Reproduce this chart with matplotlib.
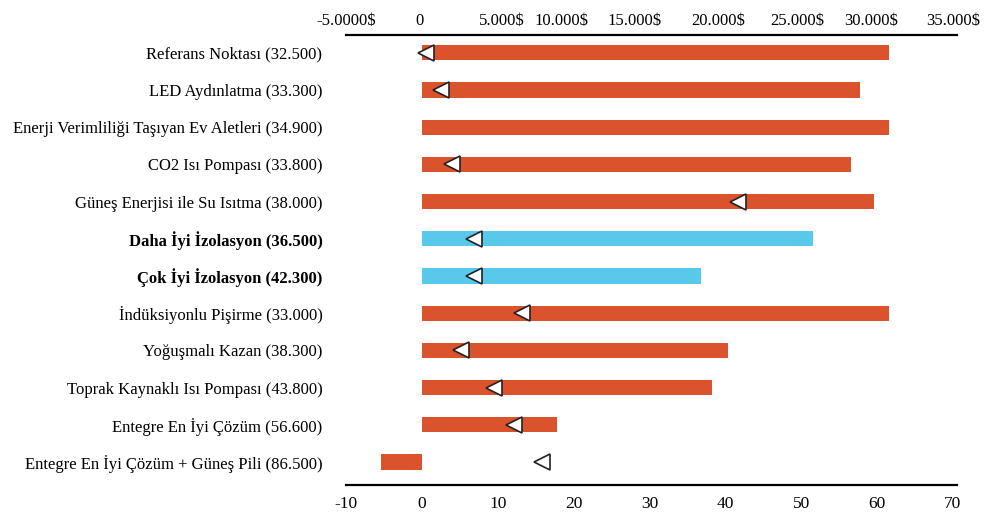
import numpy as np
import matplotlib.pyplot as plt

plt.rcParams['font.family'] = ['Liberation Serif', 'DejaVu Serif']

labels = [
    "Referans Noktası (32.500)",
    "LED Aydınlatma (33.300)",
    "Enerji Verimliliği Taşıyan Ev Aletleri (34.900)",
    "CO2 Isı Pompası (33.800)",
    "Güneş Enerjisi ile Su Isıtma (38.000)",
    "Daha İyi İzolasyon (36.500)",
    "Çok İyi İzolasyon (42.300)",
    "İndüksiyonlu Pişirme (33.000)",
    "Yoğuşmalı Kazan (38.300)",
    "Toprak Kaynaklı Isı Pompası (43.800)",
    "Entegre En İyi Çözüm (56.600)",
    "Entegre En İyi Çözüm + Güneş Pili (86.500)",
]
bar_values = [61.6, 57.8, 61.6, 56.6, 59.6, 51.6, 36.8, 61.6, 40.4, 38.3, 17.8, -5.4]
marker_values = [0.6, 2.5, np.nan, 4.0, 41.7, 6.9, 6.9, 13.2, 5.1, 9.5, 12.2, 15.8]
highlight = [False, False, False, False, False, True, True, False, False, False, False, False]

bottom_ticks = [-10, 0, 10, 20, 30, 40, 50, 60, 70]
top_tick_labels = ["-5.0000$", "0", "5.000$", "10.000$", "15.000$",
                   "20.000$", "25.000$", "30.000$", "35.000$"]
# top labels are not evenly spaced in the original; positions in bottom-axis units
top_tick_pos = [-10, -0.3, 10.6, 18.4, 28.1, 39.1, 49.5, 59.2, 70.1]

orange = '#DA532C'
blue = '#58C8EB'

fig = plt.figure(figsize=(9.85, 5.14), dpi=100)
ax = fig.add_axes([346/985, 1 - 485/514, 611/985, 450/514])

y = np.arange(len(labels))
colors = [blue if h else orange for h in highlight]
ax.barh(y, bar_values, height=0.41, color=colors, zorder=2)
ax.plot(marker_values, y, linestyle='none', marker='<', markersize=11,
        markerfacecolor='white', markeredgecolor='#222222', markeredgewidth=1.2, zorder=3)

ax.set_xlim(-9.6, 70.56)
ax.set_ylim(11.62, -0.48)

ax.set_yticks(y)
ax.set_yticklabels(labels, fontsize=12)
for lab, h in zip(ax.get_yticklabels(), highlight):
    if h:
        lab.set_fontweight('bold')
ax.set_xticks(bottom_ticks)
ax.set_xticklabels([str(t) for t in bottom_ticks], fontsize=12.5)
ax.tick_params(axis='y', length=0, pad=17)
ax.tick_params(axis='x', length=0, pad=8)

top = ax.secondary_xaxis('top')
top.set_xticks(top_tick_pos)
top.set_xticklabels(top_tick_labels, fontsize=12)
top.tick_params(length=0, pad=4)
top.spines['top'].set_linewidth(1.6)

for s in ['left', 'right']:
    ax.spines[s].set_visible(False)
ax.spines['bottom'].set_linewidth(1.6)
ax.spines['top'].set_visible(False)

fig.savefig('out.png', dpi=100)
